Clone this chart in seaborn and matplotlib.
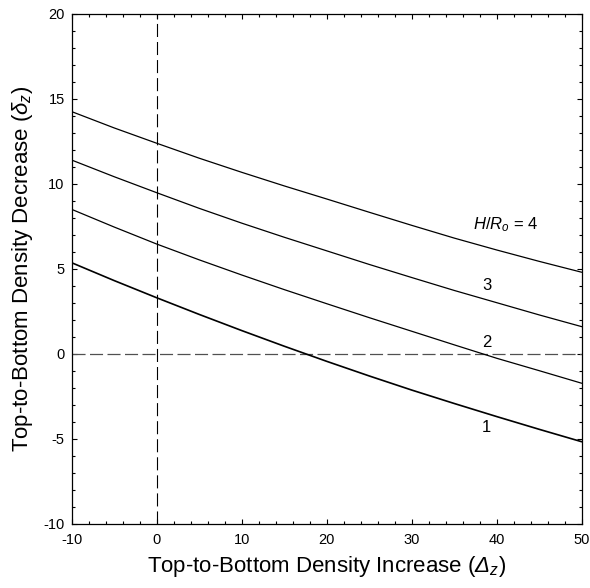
import numpy as np
import pandas as pd
import matplotlib
matplotlib.use("Agg")
import matplotlib.pyplot as plt
from matplotlib.ticker import MultipleLocator
import seaborn as sns

# Top-to-bottom density increase (Delta_z) sample positions
delta_z = [-10, -5, 0, 5, 10, 15, 20, 25, 30, 35, 40, 45, 50]

# Top-to-bottom density decrease (delta_z) for each H/Ro
h_ro_1 = [5.35, 4.30, 3.29, 2.31, 1.36, 0.44, -0.45, -1.31, -2.14, -2.93, -3.70, -4.45, -5.18]
h_ro_2 = [8.49, 7.45, 6.45, 5.52, 4.63, 3.77, 2.94, 2.12, 1.32, 0.52, -0.27, -1.00, -1.74]
h_ro_3 = [11.39, 10.41, 9.47, 8.55, 7.68, 6.85, 6.05, 5.25, 4.48, 3.72, 3.00, 2.28, 1.59]
h_ro_4 = [14.24, 13.28, 12.38, 11.50, 10.67, 9.87, 9.10, 8.32, 7.55, 6.80, 6.10, 5.43, 4.79]

curve_names = ["1", "2", "3", "4"]
curve_labels = ["1", "2", "3", r"$H/R_o$ = 4"]
label_x = [38.8, 38.8, 38.8, 41.0]
label_y = [-4.35, 0.65, 4.0, 7.6]

x_ticks = [-10, 0, 10, 20, 30, 40, 50]
y_ticks = [-10, -5, 0, 5, 10, 15, 20]

df = pd.concat(
    [pd.DataFrame({"Delta": delta_z, "delta": vals, "H/Ro": name})
     for name, vals in zip(curve_names, [h_ro_1, h_ro_2, h_ro_3, h_ro_4])],
    ignore_index=True,
)

sns.set_theme(style="ticks")
plt.rcParams["font.family"] = ["Liberation Sans", "DejaVu Sans"]
plt.rcParams["mathtext.fontset"] = "custom"
plt.rcParams["mathtext.rm"] = "Liberation Sans"
plt.rcParams["mathtext.it"] = "Liberation Sans:italic"
plt.rcParams["mathtext.bf"] = "Liberation Sans:bold"
# slanted sans face used for the capital Greek symbol in the x label
plt.rcParams["mathtext.sf"] = "Liberation Sans:italic"
plt.rcParams["lines.scale_dashes"] = False
plt.rcParams["axes.unicode_minus"] = False

fig = plt.figure(figsize=(5.9, 5.88), dpi=100)
ax = fig.add_axes([0.1215, 0.1094, 0.8645, 0.8673])

# reference lines at zero
ax.axvline(0, color="black", lw=0.8, dashes=(9.4, 3.6), zorder=1)
ax.axhline(0, color="#505050", lw=0.9, dashes=(9.4, 3.2), zorder=1)

widths = {"1": 1.2, "2": 0.9, "3": 0.9, "4": 0.9}
for name in curve_names:
    sub = df[df["H/Ro"] == name]
    sns.lineplot(data=sub, x="Delta", y="delta", ax=ax, color="black",
                 lw=widths[name], estimator=None, sort=False, zorder=3)

for txt, lx, ly in zip(curve_labels, label_x, label_y):
    ax.text(lx, ly, txt, fontsize=12, ha="center", va="center", color="black")

ax.set_xlim(-10, 50)
ax.set_ylim(-10, 20)
ax.set_xticks(x_ticks)
ax.set_yticks(y_ticks)
ax.xaxis.set_minor_locator(MultipleLocator(2))
ax.yaxis.set_minor_locator(MultipleLocator(1))
ax.tick_params(which="both", direction="in", top=True, right=True,
               color="black", width=0.8, labelsize=10.5, labelcolor="black")
ax.tick_params(which="major", length=3.8)
ax.tick_params(which="minor", length=2.3)
ax.tick_params(axis="x", which="major", pad=7)
ax.tick_params(axis="y", which="major", pad=5)
for sp in ax.spines.values():
    sp.set_visible(True)
    sp.set_color("black")
    sp.set_linewidth(0.9)

ax.set_xlabel(r"Top-to-Bottom Density Increase ($\mathsf{\Delta}_z$)",
              fontsize=16, color="black", labelpad=5)
ax.set_ylabel(r"Top-to-Bottom Density Decrease ($\delta_z$)",
              fontsize=16, color="black", labelpad=6)

fig.savefig("out.png", dpi=100)
